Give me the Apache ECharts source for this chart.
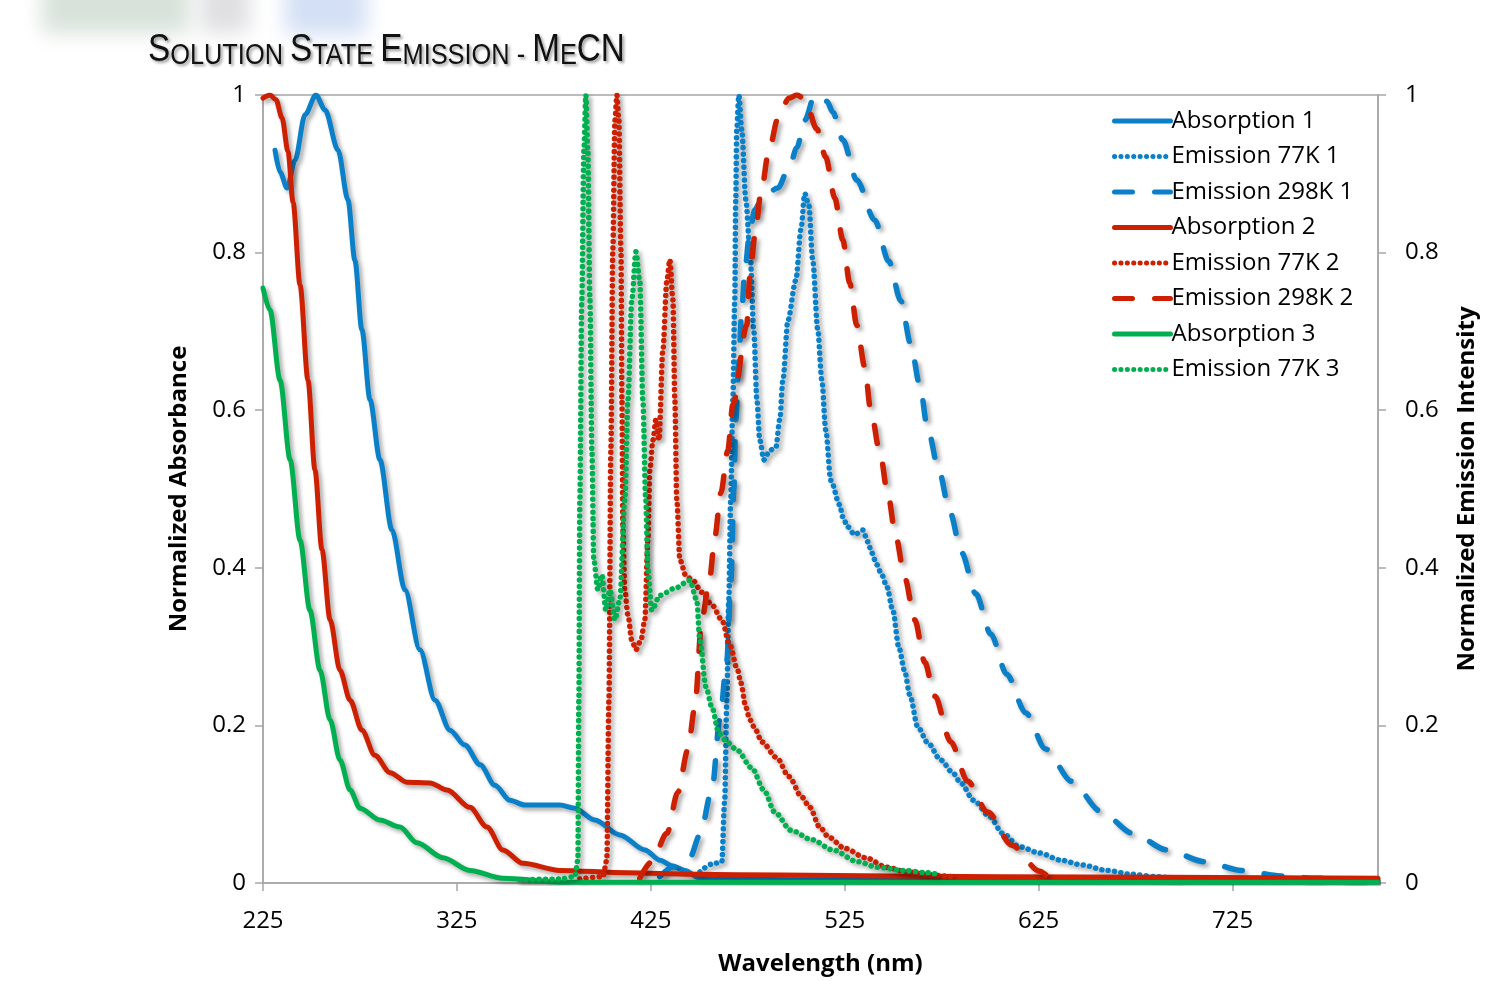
<!DOCTYPE html>
<html>
<head>
<meta charset="utf-8">
<script src="https://cdn.jsdelivr.net/npm/echarts@6/dist/echarts.min.js"></script>
<style>
  html, body { margin: 0; padding: 0; background: #fff; }
  #chart { width: 1487px; height: 981px; }
</style>
</head>
<body>
<div id="chart"></div>
<script>
// wavelength (nm) ticks shown on the x axis
const xTicks = [225, 325, 425, 525, 625, 725];

const seriesNames = [
  "Absorption 1", "Emission 77K 1", "Emission 298K 1",
  "Absorption 2", "Emission 77K 2", "Emission 298K 2",
  "Absorption 3", "Emission 77K 3"
];

// [wavelength nm, normalized value]
const abs1 = [
  [231.2, 0.930], [233.8, 0.902], [237.4, 0.882], [241.5, 0.917], [246.7, 0.975],
  [252.3, 1.0], [257.0, 0.981], [263.7, 0.930], [268.8, 0.867], [272.4, 0.790],
  [276.0, 0.702], [280.2, 0.613], [285.3, 0.537], [291.5, 0.448], [298.2, 0.372],
  [305.9, 0.296], [313.7, 0.232], [321.4, 0.194], [329.1, 0.175], [337.0, 0.150],
  [344.6, 0.124], [352.3, 0.105], [360.0, 0.099], [378.1, 0.099], [385.8, 0.095],
  [396.1, 0.080], [409.0, 0.061], [421.9, 0.042], [429.7, 0.029], [435.8, 0.022],
  [442.5, 0.016], [450.3, 0.006], [501.8, 0.004], [800, 0.003]
];
const em77k1 = [
  [450.3, 0.014], [456.5, 0.024], [461.6, 0.027], [463.1, 0.105], [464.2, 0.232],
  [465.2, 0.359], [466.2, 0.486], [467.3, 0.613], [468.3, 0.740], [468.8, 0.867],
  [469.3, 0.956], [470.4, 1.0], [471.9, 0.956], [474.0, 0.867], [476.1, 0.803],
  [478.1, 0.702], [479.7, 0.613], [481.2, 0.562], [483.3, 0.537], [486.4, 0.549],
  [489.5, 0.553], [491.5, 0.588], [493.1, 0.638], [495.7, 0.714], [499.8, 0.765],
  [502.4, 0.829], [504.4, 0.875], [506.5, 0.860], [508.5, 0.790], [511.1, 0.702],
  [513.2, 0.638], [515.2, 0.575], [517.8, 0.511], [522.4, 0.480], [523.9, 0.465],
  [526.5, 0.452], [530.1, 0.442], [534.3, 0.448], [536.9, 0.433], [538.9, 0.419],
  [541.5, 0.404], [544.1, 0.391], [546.7, 0.376], [549.8, 0.346], [552.9, 0.299],
  [556.0, 0.268], [558.5, 0.239], [562.7, 0.198], [567.8, 0.178], [574.5, 0.156],
  [580.7, 0.140], [584.8, 0.127], [591.5, 0.105], [599.8, 0.084], [606.5, 0.063],
  [615.2, 0.046], [625.5, 0.038], [636.4, 0.029], [647.2, 0.023], [660.1, 0.016],
  [673.0, 0.011], [685.3, 0.008], [700, 0.004]
];
const em298k1 = [
  [429.6, 0.008], [436.3, 0.020], [445.1, 0.032], [450.3, 0.061], [456.5, 0.118],
  [460.6, 0.207], [464.2, 0.283], [466.3, 0.384], [467.8, 0.499], [468.8, 0.588],
  [470.4, 0.664], [471.9, 0.727], [473.5, 0.778], [476.1, 0.829], [478.6, 0.854],
  [482.2, 0.869], [490.5, 0.882], [496.7, 0.911], [500.3, 0.933], [504.4, 0.968],
  [509.6, 1.0], [515.8, 0.992], [518.9, 0.978], [524.0, 0.943], [531.2, 0.892],
  [540.5, 0.841], [547.7, 0.789], [553.9, 0.739], [559.0, 0.684], [563.7, 0.632],
  [567.8, 0.576], [573.5, 0.524], [579.2, 0.471], [585.3, 0.419], [592.6, 0.367],
  [600.3, 0.316], [608.5, 0.265], [618.3, 0.216], [628.6, 0.170], [642.0, 0.129],
  [657.0, 0.091], [673.5, 0.063], [691.0, 0.042], [710.6, 0.027], [729.7, 0.016],
  [749.8, 0.009], [767.8, 0.006], [800, 0.004]
];
const abs2 = [
  [225, 0.996], [228.6, 1.0], [231.7, 0.994], [234.8, 0.971], [237.9, 0.928],
  [240.5, 0.864], [244.1, 0.759], [248.2, 0.638], [251.8, 0.524], [255.4, 0.423],
  [259.6, 0.334], [264.7, 0.270], [269.9, 0.232], [276.0, 0.194], [282.7, 0.162],
  [290.5, 0.140], [299.2, 0.128], [311.1, 0.127], [319.9, 0.118], [331.7, 0.096],
  [340.5, 0.071], [348.7, 0.042], [359.0, 0.025], [378.1, 0.016], [412.6, 0.013],
  [446.7, 0.011], [491.5, 0.010], [604.9, 0.008], [800, 0.006]
];
const em77k2 = [
  [388.4, 0.005], [400.3, 0.008], [402.3, 0.029], [403.4, 0.232], [404.4, 0.549],
  [405.4, 0.803], [406.5, 0.968], [407.5, 1.0], [408.5, 0.968], [409.6, 0.803],
  [410.1, 0.613], [410.6, 0.448], [411.6, 0.372], [413.2, 0.340], [415.2, 0.308],
  [417.3, 0.296], [419.9, 0.308], [421.9, 0.334], [423.5, 0.435], [424.5, 0.524],
  [426.1, 0.562], [427.6, 0.588], [429.2, 0.562], [431.2, 0.676], [433.3, 0.765],
  [434.8, 0.791], [436.4, 0.740], [437.4, 0.613], [438.4, 0.486], [440.0, 0.410],
  [443.1, 0.390], [446.7, 0.384], [451.3, 0.369], [456.5, 0.353], [461.6, 0.334],
  [465.7, 0.302], [469.8, 0.270], [471.4, 0.254], [474.0, 0.223], [476.1, 0.207],
  [479.1, 0.194], [482.2, 0.179], [490.0, 0.159], [496.2, 0.135], [502.9, 0.109],
  [507.0, 0.096], [512.1, 0.071], [516.8, 0.058], [525.0, 0.044], [535.8, 0.032],
  [546.7, 0.020], [557.0, 0.014], [569.9, 0.010], [580.0, 0.008]
];
const em298k2 = [
  [419.3, 0.006], [425.5, 0.027], [433.3, 0.063], [438.9, 0.115], [444.1, 0.169],
  [447.7, 0.223], [451.3, 0.334], [455.4, 0.388], [458.0, 0.439], [461.1, 0.495],
  [464.7, 0.549], [467.3, 0.607], [474.5, 0.708], [476.0, 0.768], [478.6, 0.820],
  [481.7, 0.874], [485.8, 0.928], [490.5, 0.970], [496.2, 0.996], [500.3, 1.0],
  [504.4, 0.995], [510.6, 0.957], [515.2, 0.921], [519.9, 0.869], [524.0, 0.816],
  [527.6, 0.761], [531.2, 0.708], [535.3, 0.655], [538.4, 0.600], [543.1, 0.547],
  [547.2, 0.494], [551.3, 0.440], [556.0, 0.387], [561.1, 0.334], [566.3, 0.280],
  [571.4, 0.237], [579.7, 0.179], [588.4, 0.129], [598.7, 0.090], [611.1, 0.048],
  [625.5, 0.015], [630.7, 0.008], [636.0, 0.004]
];
const abs3 = [
  [225, 0.755], [228.6, 0.727], [233.8, 0.638], [239.0, 0.537], [244.1, 0.435],
  [249.2, 0.346], [254.4, 0.270], [259.6, 0.207], [264.7, 0.156], [269.9, 0.118],
  [275.0, 0.095], [285.3, 0.080], [295.6, 0.071], [304.4, 0.051], [317.8, 0.032],
  [331.7, 0.016], [348.7, 0.006], [378.1, 0.001], [800, 0.001]
];
const em77k3 = [
  [357.5, 0.004], [378.1, 0.005], [385.8, 0.008], [387.4, 0.029], [387.9, 0.232],
  [388.4, 0.486], [389.4, 0.740], [390.5, 0.930], [391.5, 1.0], [392.5, 0.930],
  [393.6, 0.740], [394.6, 0.549], [395.6, 0.410], [397.7, 0.372], [399.8, 0.391],
  [401.8, 0.346], [403.9, 0.372], [406.5, 0.334], [409.0, 0.359], [411.6, 0.486],
  [413.2, 0.613], [415.2, 0.740], [417.3, 0.801], [419.3, 0.765], [420.9, 0.613],
  [422.4, 0.486], [423.5, 0.397], [425.5, 0.346], [429.7, 0.365], [437.4, 0.374],
  [445.1, 0.384], [448.7, 0.359], [450.3, 0.308], [453.4, 0.249], [456.5, 0.223],
  [460.1, 0.190], [464.2, 0.179], [469.3, 0.169], [477.1, 0.146], [483.3, 0.118],
  [488.9, 0.090], [497.2, 0.067], [508.0, 0.055], [518.8, 0.042], [531.7, 0.027],
  [542.0, 0.020], [554.9, 0.016], [567.8, 0.013], [574.5, 0.010]
];

const seriesData = [abs1, em77k1, em298k1, abs2, em77k2, em298k2, abs3, em77k3];
const seriesColors = ["#0a80c8", "#0a80c8", "#0a80c8", "#cc2000", "#cc2000", "#cc2000", "#00b050", "#00b050"];
const seriesKinds = ["solid", "dot", "dash", "solid", "dot", "dash", "solid", "dot"];

const font = "'Open Sans', sans-serif";
const titleFont = "'Liberation Sans', Arial, sans-serif";

function lineStyleFor(kind, color) {
  let st = {
    color: color, width: 5, cap: "round", join: "round",
    shadowColor: "rgba(0,0,0,0.35)", shadowBlur: 4, shadowOffsetX: 3, shadowOffsetY: 3
  };
  if (kind === "dot") { st.type = [0.1, 6.3]; st.width = 5.5; }
  if (kind === "dash") { st.type = [18, 22]; st.width = 5.5; }
  return st;
}

let series = seriesNames.map((name, i) => ({
  name: name,
  type: "line",
  yAxisIndex: seriesKinds[i] === "solid" ? 0 : 1,
  data: seriesData[i],
  symbol: "none",
  smooth: 0.3,
  smoothMonotone: "x",
  color: seriesColors[i],
  lineStyle: lineStyleFor(seriesKinds[i], seriesColors[i]),
  emphasis: { disabled: true },
  animation: false
}));

const myChart = echarts.init(document.getElementById("chart"));

const yCommon = {
  type: "value", min: 0, max: 1, interval: 0.2,
  axisLine: { show: true, lineStyle: { color: "#a6a6a6", width: 1.5 } },
  axisTick: { show: true, length: 8, lineStyle: { color: "#a6a6a6", width: 1.5 } },
  splitLine: { show: false },
  nameLocation: "middle",
  nameRotate: 90,
  nameTextStyle: { fontFamily: font, fontWeight: "bold", fontSize: 24, color: "#000" }
};

const titleShadow = { textShadowColor: "rgba(0,0,0,0.4)", textShadowBlur: 3, textShadowOffsetX: 2, textShadowOffsetY: 2 };

let option = {
  backgroundColor: "#fff",
  animation: false,
  graphic: [
    // blurred strip at the top left (shadows of off-canvas boxes)
    { type: "rect", silent: true, shape: { x: 42, y: -345, width: 148, height: 78 },
      style: { fill: "#dfe8e0", shadowBlur: 20, shadowOffsetY: 300, shadowColor: "rgb(216,226,218)" } },
    { type: "rect", silent: true, shape: { x: 200, y: -345, width: 50, height: 78 },
      style: { fill: "#e4e4e6", shadowBlur: 20, shadowOffsetY: 300, shadowColor: "rgb(224,224,227)" } },
    { type: "rect", silent: true, shape: { x: 285, y: -345, width: 82, height: 80 },
      style: { fill: "#d6e2f5", shadowBlur: 20, shadowOffsetY: 300, shadowColor: "rgb(212,224,245)" } },
    {
      type: "text", x: 148, y: 32, scaleX: 0.875, silent: true,
      style: {
        text: "{b|S}{s|OLUTION }{b|S}{s|TATE }{b|E}{s|MISSION - }{b|M}{s|E}{b|CN}",
        fill: "#111",
        rich: {
          b: Object.assign({ fontFamily: titleFont, fontSize: 38, lineHeight: 38, verticalAlign: "bottom", fill: "#111" }, titleShadow),
          s: Object.assign({ fontFamily: titleFont, fontSize: 29, lineHeight: 29, verticalAlign: "bottom", fill: "#111" }, titleShadow)
        }
      }
    }
  ],
  legend: {
    orient: "vertical",
    left: 1107,
    top: 103,
    itemWidth: 56,
    itemHeight: 14,
    itemGap: 9.5,
    data: seriesNames,
    itemStyle: { opacity: 0 },
    lineStyle: { width: 5, shadowBlur: 0, shadowColor: "rgba(0,0,0,0)", shadowOffsetX: 0, shadowOffsetY: 0 },
    textStyle: { fontFamily: font, fontSize: 24, color: "#000", lineHeight: 26, padding: [0, 0, 0, -4] },
    selectedMode: false
  },
  grid: {
    left: 263, right: 109, top: 95, bottom: 98,
    show: true, borderColor: "#a6a6a6", borderWidth: 1.5
  },
  xAxis: {
    type: "value", min: 225, max: 800,
    name: "Wavelength (nm)",
    nameLocation: "middle",
    nameGap: 69,
    nameTextStyle: { fontFamily: font, fontWeight: "bold", fontSize: 24, color: "#000" },
    axisLine: { show: true, onZero: false, lineStyle: { color: "#a6a6a6", width: 1.5 } },
    axisTick: { show: true, length: 8, customValues: xTicks, lineStyle: { color: "#a6a6a6", width: 1.5 } },
    axisLabel: { customValues: xTicks, margin: 26, fontFamily: font, fontSize: 24, color: "#000" },
    splitLine: { show: false }
  },
  yAxis: [
    Object.assign({}, yCommon, {
      position: "left",
      name: "Normalized Absorbance",
      nameGap: 72,
      axisLabel: { margin: 17, fontFamily: font, fontSize: 24, color: "#000" }
    }),
    Object.assign({}, yCommon, {
      position: "right",
      name: "Normalized Emission Intensity",
      nameGap: 77,
      axisLabel: { margin: 27, fontFamily: font, fontSize: 24, color: "#000" }
    })
  ],
  series
};

option && myChart.setOption(option);
</script>
</body>
</html>
